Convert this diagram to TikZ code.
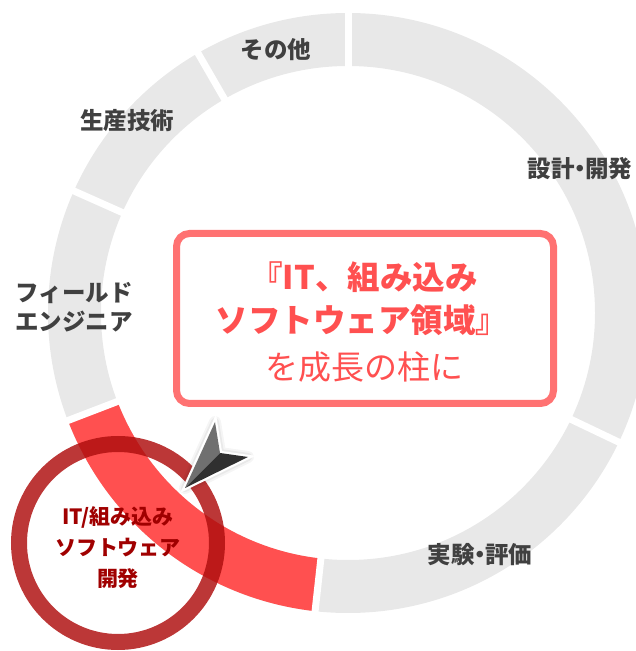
\documentclass[tikz,border=0pt]{standalone}
\usepackage{fontspec}
\setmainfont{Noto Sans CJK JP}
\usetikzlibrary{calc}
\definecolor{ringgray}{HTML}{E8E8E8}
\definecolor{segred}{HTML}{FF5050}
\definecolor{circred}{RGB}{175,15,15}
\definecolor{circtext}{HTML}{A00000}
\definecolor{boxborder}{HTML}{FF7272}
\definecolor{boxtext}{HTML}{FF5050}
\definecolor{labelgray}{HTML}{404040}
\definecolor{arrowlight}{HTML}{707070}
\definecolor{arrowdark}{HTML}{303030}
\newcommand{\middot}{\hspace{-0.28em}・\hspace{-0.28em}}
\tikzset{
  seglabel/.style={text=labelgray, font=\bfseries\fontsize{23.5}{29}\selectfont, align=center, inner sep=0pt},
  boxline/.style={text=boxtext, font=\bfseries\fontsize{32.5}{36}\selectfont, inner sep=0pt},
  gapline/.style={white, line width=7pt},
}
\begin{document}
\begin{tikzpicture}[x=1pt,y=1pt]
\useasboundingbox (0,0) rectangle (636,651);
\clip (0,0) rectangle (636,651);
\coordinate (C) at (348,338);
% donut ring
\draw[ringgray, line width=53pt] (C) circle (273.5);
\draw[segred, line width=53pt] ($(C)+(201:273.5)$) arc (201:263.7:273.5);
\foreach \a in {90,120,156,201,263.7,334.5}
  \draw[gapline] ($(C)+(\a:240)$) -- ($(C)+(\a:310)$);
% segment labels
\node[seglabel] (other) at (276,601) {その他};
\node[seglabel] (prod) at (127,530) {生産技術};
\node[seglabel] (design) at (580,482) {設計\middot 開発};
\node[seglabel] (field) at (74,343.5) {フィールド\\エンジニア};
\node[seglabel] (test) at (480,96) {実験\middot 評価};
% highlighted circle
\node[circle, draw=circred, draw opacity=0.83, line width=16pt, minimum size=198pt, inner sep=0pt] (itc) at (118,108) {};
\node[text=circtext, font=\bfseries\fontsize{21}{31}\selectfont, align=center, inner sep=0pt] (ittext) at (118,103) {IT/組み込み\\ソフトウェア\\開発};
% callout box
\node[draw=boxborder, line width=7pt, rounded corners=13pt, minimum width=377pt, minimum height=170pt, fill=white] (box) at (365,332.5) {};
\node[boxline] (l1) at (364,374) {『IT、組み込み};
\node[boxline] (l2) at (362,331) {ソフトウェア領域』};
\node[text=boxtext, font=\fontsize{33}{36}\selectfont, inner sep=0pt] (l3) at (364,284) {を成長の柱に};
% pointer arrow
\coordinate (tip) at (185,163);
\coordinate (top) at (215,229);
\coordinate (rt) at (248,194);
\coordinate (notch) at (220,198);
\begin{scope}[shift={(4,-3)}]
  \foreach \w/\o in {12/0.04,8/0.05,4/0.07,1/0.09}
    \filldraw[black, opacity=\o, line width=\w pt, line join=round] (tip) -- (top) -- (notch) -- (rt) -- cycle;
\end{scope}
\draw[white, line width=4.5pt, line join=miter] (tip) -- (top) -- (notch) -- (rt) -- cycle;
\fill[white] (tip) -- (top) -- (notch) -- (rt) -- cycle;
\fill[arrowlight] (tip) -- (top) -- (notch) -- cycle;
\fill[arrowdark] (tip) -- (notch) -- (rt) -- cycle;
\end{tikzpicture}
\end{document}
